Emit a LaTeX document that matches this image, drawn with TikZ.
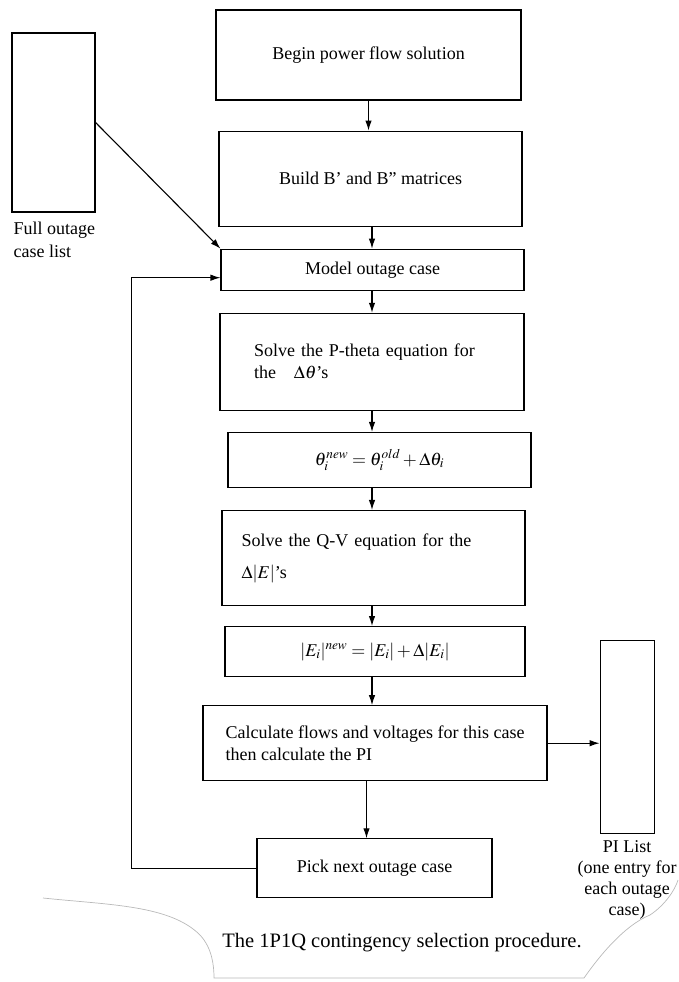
\documentclass[tikz,border=0pt]{standalone}
\usepackage{mathptmx}
\usepackage{fontspec}
\setmainfont{Liberation Serif}
\usepackage{amsmath}
\usetikzlibrary{arrows.meta,positioning}
\tikzset{
  pbox/.style={draw=black, line width=1.1pt, align=center, inner sep=4pt, font=\fontsize{18}{22}\selectfont},
  plabel/.style={inner sep=0pt, font=\fontsize{18}{21}\selectfont},
  farr/.style={-{Latex[length=10pt,width=6.5pt]}, line width=1.1pt}
}

\begin{document}
\begin{tikzpicture}[x=1pt,y=-1pt]
\useasboundingbox (0,0) rectangle (678,982);
% main column
\node[pbox, minimum width=305pt, minimum height=90pt] (begin) at (368.5,55) {Begin power flow solution};
\node[pbox, minimum width=303pt, minimum height=95pt, below=30pt of begin, xshift=2pt] (build) {Build B' and B" matrices};
\node[pbox, minimum width=303pt, minimum height=41pt, below=22pt of build, xshift=2pt] (model) {Model outage case};
\node[pbox, minimum width=304pt, minimum height=97pt, below=22pt of model, xshift=-0.5pt, text width=236pt, align=left] (ptheta) {Solve the P-theta equation for\\ the\hspace{18pt}$\Delta\theta$'s\\[8pt]};
\node[pbox, minimum width=303pt, minimum height=55pt, below=21pt of ptheta, xshift=7.5pt] (thupd) {$\theta_i^{new} = \theta_i^{old} + \Delta\theta_i$};
\node[pbox, minimum width=303pt, minimum height=95pt, below=22pt of thupd, xshift=-6pt, text width=264pt, align=left] (qv) {Solve the Q-V equation for the\\[10pt] $\Delta|E|$'s\\[10pt]};
\node[pbox, minimum width=300pt, minimum height=50pt, below=20pt of qv, xshift=1.5pt] (eupd) {$|E_i|^{new} = |E_i| + \Delta|E_i|$};
\node[pbox, minimum width=344pt, minimum height=75pt, below=28pt of eupd, align=left] (calc) {Calculate flows and voltages for this case\\ then calculate the PI};
\node[pbox, minimum width=235pt, minimum height=59pt, below=57pt of calc, xshift=-0.5pt] (pick) {Pick next outage case};
% side lists
\node[pbox, minimum width=83pt, minimum height=179pt] (full) at (53.5,122.5) {};
\node[plabel, align=left, font=\fontsize{18}{23}\selectfont, below right=9pt and 2pt of full.south west, anchor=north west] (fulllbl) {Full outage\\ case list};
\node[pbox, minimum width=54pt, minimum height=193pt, right=52pt of calc, yshift=6pt] (pilist) {};
\node[plabel, align=center, below=6pt of pilist] (pilbl) {PI List\\ (one entry for\\ each outage\\ case)};
% connectors
\draw[farr] (begin.south) -- (begin.south |- build.north);
\foreach \a/\b in {build/model, model/ptheta, ptheta/thupd, thupd/qv, qv/eupd, eupd/calc}
  \draw[farr] (\a.south -| ptheta.center) -- (\b.north -| ptheta.center);
\draw[farr] ([xshift=-8pt]pick.north |- calc.south) -- ([xshift=-8pt]pick.north);
\draw[farr] (full.east) -- (model.north west);
\draw[farr] (calc.east) -- (calc.east -| pilist.west);
\draw[farr] (pick.west) -- ++(-125pt,0) |- ([yshift=-8pt]model.west);
% caption and page edge
\node[plabel, font=\fontsize{20.5}{24}\selectfont] (caption) at (402,943) {The 1P1Q contingency selection procedure.};
\draw[gray!55, line width=0.7pt] (43,898) .. controls (110,905) and (170,905) .. (200,935) .. controls (212,948) and (214,965) .. (214,978) -- (584,978) .. controls (600,955) and (625,925) .. (650,915) .. controls (665,905) and (675,890) .. (678,880);
\end{tikzpicture}
\end{document}
